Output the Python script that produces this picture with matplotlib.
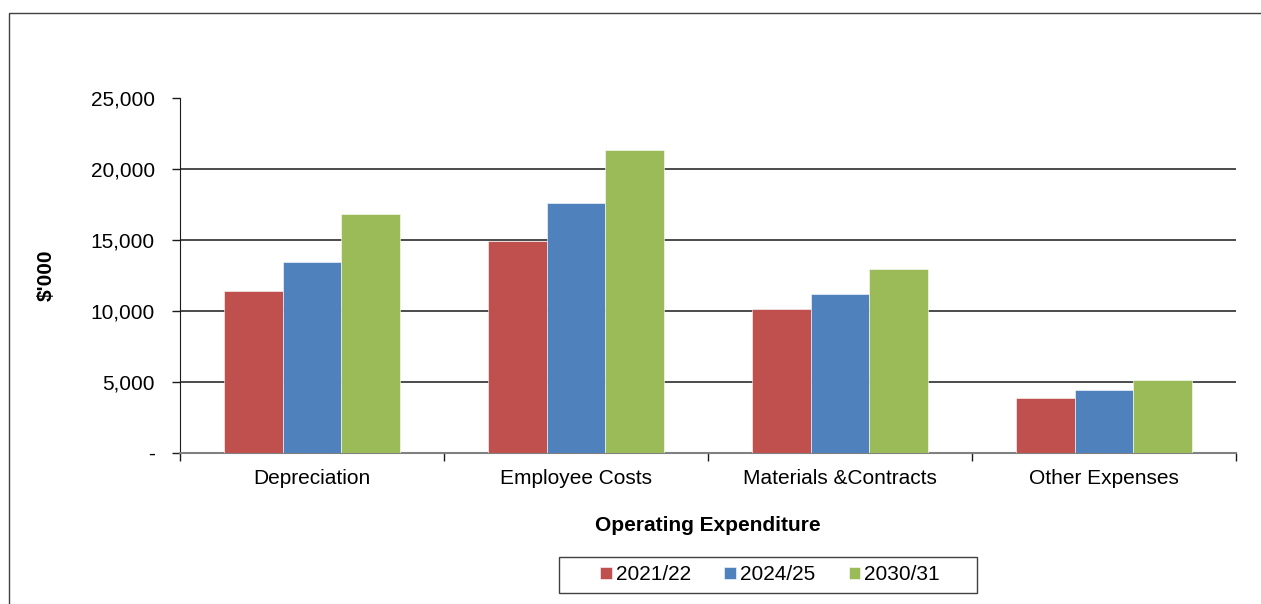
import numpy as np
import matplotlib.pyplot as plt
from matplotlib.patches import Rectangle
from matplotlib.ticker import FuncFormatter

plt.rcParams['font.family'] = ['Liberation Sans', 'DejaVu Sans']

categories = ["Depreciation", "Employee Costs", "Materials &Contracts", "Other Expenses"]
years = ["2021/22", "2024/25", "2030/31"]
v2122 = [11400, 14910, 10110, 3840]
v2425 = [13430, 17630, 11220, 4430]
v3031 = [16870, 21390, 12980, 5140]
colors = ["#C0504D", "#4F81BD", "#9BBB59"]

W, H = 1261, 604
fig = plt.figure(figsize=(W / 100, H / 100), dpi=100)
ax = fig.add_axes([180 / W, 1 - 452.7 / H, 1056 / W, 354.2 / H])

# outer chart frame
fig.patches.append(Rectangle((9 / W, -0.05), 1.2, 1 - 13 / H + 0.05,
                             transform=fig.transFigure, fill=False,
                             edgecolor="#404040", linewidth=1.0))

x = np.arange(len(categories))
w = 1 / 4.5
for i, (vals, lab) in enumerate(zip([v2122, v2425, v3031], years)):
    ax.bar(x + (i - 1) * w, vals, w, color=colors[i], label=lab,
           edgecolor="white", linewidth=0.4, zorder=3)

ax.set_xlim(-0.5, len(categories) - 0.5)
ax.set_ylim(0, 25000)
ax.set_yticks(range(0, 25001, 5000))
ax.yaxis.set_major_formatter(FuncFormatter(lambda v, p: "-" if v == 0 else f"{int(v):,}"))
ax.yaxis.grid(True, color="#1a1a1a", linewidth=1.1, zorder=0)
ax.set_axisbelow(True)

fs = 15
ax.set_xticks(x)
ax.set_xticklabels(categories, fontsize=fs)
ax.set_xticks(np.arange(-0.5, len(categories)), minor=True)
ax.tick_params(axis="x", which="major", length=0, pad=12)
ax.tick_params(axis="x", which="minor", length=6, width=1, color="#1a1a1a")
ax.tick_params(axis="y", length=6, width=1, labelsize=fs, pad=12, color="#1a1a1a")

for s in ["top", "right"]:
    ax.spines[s].set_visible(False)
ax.spines["left"].set_color("#1a1a1a")
ax.spines["bottom"].set_color("#808080")
ax.spines["bottom"].set_linewidth(1.5)

ax.set_ylabel("$'000", fontsize=fs, fontweight="bold", labelpad=25)
ax.set_xlabel("Operating Expenditure", fontsize=fs, fontweight="bold", labelpad=20)

# legend box drawn separately so it can be wider than the entries
fig.patches.append(Rectangle((559 / W, 1 - 593 / H), 418 / W, 36 / H,
                             transform=fig.transFigure, fill=False,
                             edgecolor="#404040", linewidth=1.0))
leg = ax.legend(loc="center", bbox_to_anchor=(770 / W, 1 - 575 / H),
                bbox_transform=fig.transFigure, ncol=3, frameon=False,
                fontsize=fs, handlelength=0.55, handleheight=0.55, handletextpad=0.2,
                columnspacing=1.6, borderpad=0.2)

fig.savefig("out.png", dpi=100)
